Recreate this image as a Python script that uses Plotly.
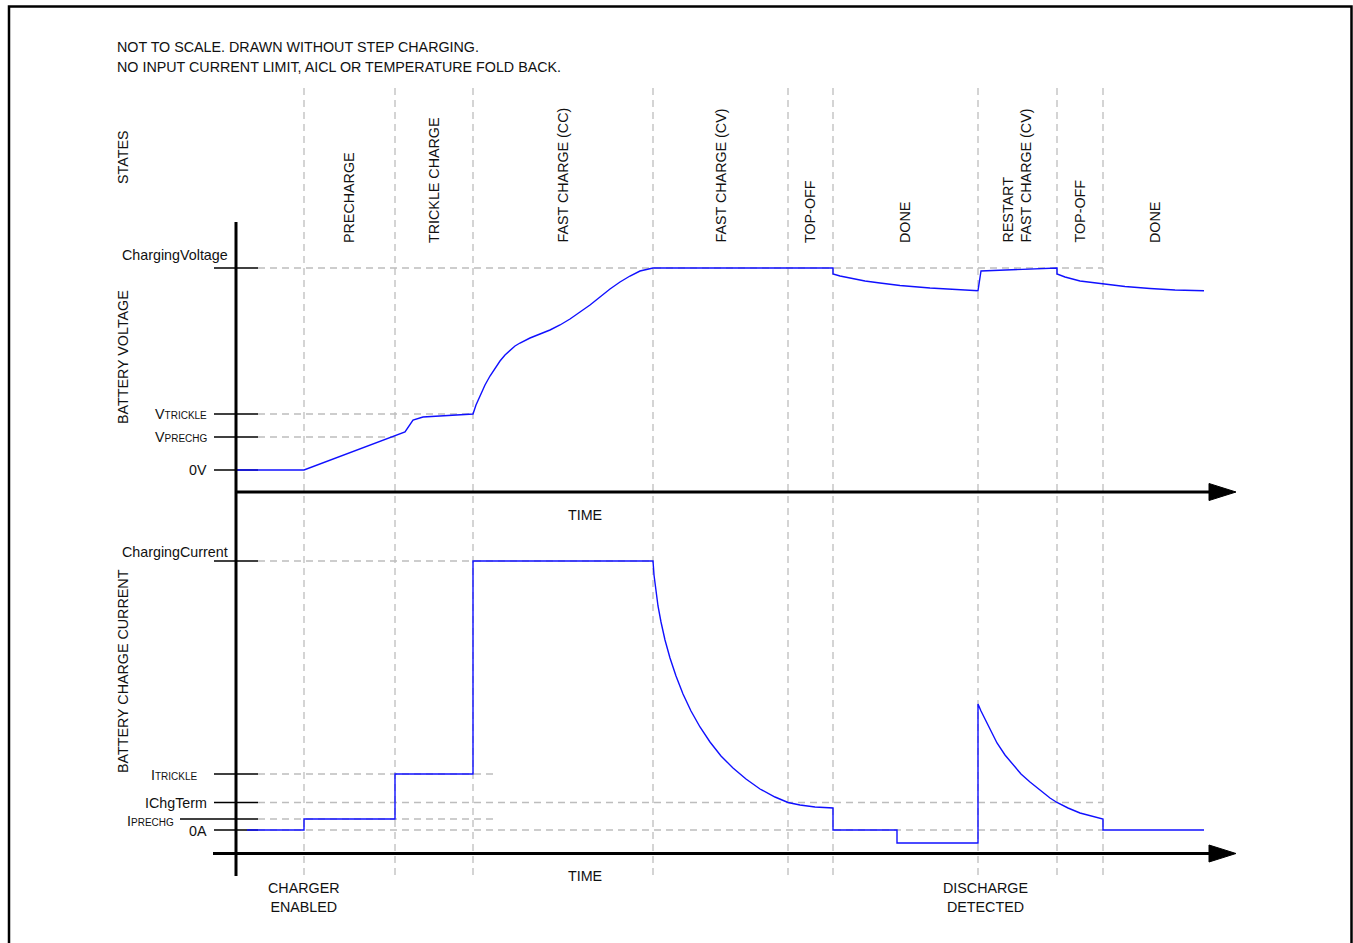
import plotly.graph_objects as go

W, H = 1353, 943
FONT = "Liberation Sans, Arial, sans-serif"
FS = 14.3
SUB = "<span style='font-size:10px'>{}</span>"
BLUE = "#1010ff"
GRID = "#bdbdbd"

# ---------------- data (arbitrary, not-to-scale units) ----------------
# state boundaries on the time axis
phase_t = [6.8, 15.9, 23.7, 41.7, 55.2, 59.7, 74.2, 82.1, 86.7]
t_end = 97.2
state_labels = ["PRECHARGE", "TRICKLE CHARGE", "FAST CHARGE (CC)", "FAST CHARGE (CV)",
                "TOP-OFF", "DONE", "RESTART<br>FAST CHARGE (CV)", "TOP-OFF", "DONE"]

# battery voltage curve
volt_t = [0, 6.8, 16.9, 17.7, 18.7, 23.7,
          24.0, 24.4, 24.9, 25.4, 25.9, 26.4, 26.9, 27.4, 27.9, 28.4, 29.4, 30.4, 31.4,
          32.4, 33.4, 34.4, 35.4, 36.4, 37.4, 38.4, 39.4, 40.4, 41.1, 41.7,
          59.7, 59.7, 60.4, 61.4, 62.9, 64.4, 66.4, 69.4, 71.9, 74.2,
          74.5, 82.1,
          82.1, 82.9, 84.4, 86.6, 88.9, 91.4, 93.9, 96.8]
volt_v = [0, 0, 3.8, 5.0, 5.3, 5.6,
          6.5, 7.4, 8.5, 9.4, 10.2, 10.9, 11.5, 12.0, 12.4, 12.7, 13.2, 13.6, 14.0,
          14.5, 15.1, 15.8, 16.5, 17.3, 18.1, 18.8, 19.4, 19.9, 20.1, 20.2,
          20.2, 19.6, 19.4, 19.2, 18.9, 18.7, 18.45, 18.2, 18.05, 17.93,
          19.9, 20.2,
          19.6, 19.3, 18.9, 18.6, 18.35, 18.15, 18.0, 17.93]

# battery charge current curve
curr_t = [1.1, 6.8, 6.8, 15.9, 15.9, 23.7, 23.7, 41.7,
          41.8, 42.0, 42.2, 42.5, 42.9, 43.4, 44.0, 44.7, 45.5, 46.4, 47.4, 48.5, 49.7,
          51.0, 52.4, 53.9, 55.2, 56.4, 57.9, 59.7,
          59.7, 66.1, 66.1, 74.2, 74.2,
          74.5, 74.9, 75.4, 76.1, 76.9, 77.7, 78.5, 79.4, 80.4, 81.4, 82.1, 83.2, 84.4,
          85.5, 86.6, 86.7, 86.7, 96.8]
curr_i = [0, 0, 1.1, 1.1, 5.6, 5.6, 26.9, 26.9,
          25.5, 23.8, 22.4, 20.8, 19.0, 17.2, 15.4, 13.6, 11.9, 10.3, 8.8, 7.4, 6.2,
          5.1, 4.1, 3.3, 2.75, 2.5, 2.3, 2.2,
          0, 0, -1.3, -1.3, 12.6,
          11.9, 11.1, 10.1, 8.7, 7.5, 6.5, 5.6, 4.8, 4.0, 3.2, 2.75, 2.2, 1.7,
          1.4, 1.1, 1.1, 0, 0]

# reference levels
volt_levels = [20.2, 5.6, 3.3, 0]
volt_level_labels = ["ChargingVoltage", "V" + SUB.format("TRICKLE"),
                     "V" + SUB.format("PRECHG"), "0V"]
volt_level_end = [86.7, 23.7, 15.9, None]

curr_levels = [26.9, 5.6, 2.75, 1.1, 0]
curr_level_labels = ["ChargingCurrent", "I" + SUB.format("TRICKLE"), "IChgTerm",
                     "I" + SUB.format("PRECHG"), "0A"]
curr_level_end = [41.7, 26.2, 86.7, 26.1, 86.7]

notes = ["NOT TO SCALE. DRAWN WITHOUT STEP CHARGING.",
         "NO INPUT CURRENT LIMIT, AICL OR TEMPERATURE FOLD BACK."]

# ---------------- layout helpers (pixel -> paper / axis) ----------------
def px(x):
    return x / W

def py(y):
    return 1 - y / H

X0 = 236.0      # pixel of t = 0
XS = 10.0       # pixels per time unit
V0, VS = 470.0, 10.0
I0, IS = 830.0, 10.0

def tx(x):       # pixel -> time units (for layout items)
    return (x - X0) / XS

fig = go.Figure()
fig.add_trace(go.Scatter(x=volt_t, y=volt_v, mode="lines", yaxis="y",
                         line=dict(color=BLUE, width=1.4), hoverinfo="skip"))
fig.add_trace(go.Scatter(x=curr_t, y=curr_i, mode="lines", yaxis="y2",
                         line=dict(color=BLUE, width=1.4), hoverinfo="skip"))

shapes = []
dash = "7px,5px"
# vertical state boundaries
for t in phase_t:
    shapes.append(dict(type="line", xref="x", yref="paper", x0=t, x1=t,
                       y0=py(88), y1=py(877), layer="below",
                       line=dict(color=GRID, width=1.3, dash=dash)))
# horizontal level lines + ticks
for lv, end in zip(volt_levels, volt_level_end):
    if end is not None:
        shapes.append(dict(type="line", xref="x", yref="y", x0=tx(258), x1=end,
                           y0=lv, y1=lv, layer="below",
                           line=dict(color=GRID, width=1.3, dash=dash)))
    shapes.append(dict(type="line", xref="x", yref="y", x0=tx(214), x1=tx(258),
                       y0=lv, y1=lv, layer="below", line=dict(color="black", width=1.5)))
for k, (lv, end) in enumerate(zip(curr_levels, curr_level_end)):
    shapes.append(dict(type="line", xref="x", yref="y2", x0=tx(258), x1=end,
                       y0=lv, y1=lv, layer="below",
                       line=dict(color=GRID, width=1.3, dash=dash)))
    start = 180 if k == 3 else 214
    shapes.append(dict(type="line", xref="x", yref="y2", x0=tx(start), x1=tx(258),
                       y0=lv, y1=lv, layer="below", line=dict(color="black", width=1.5)))

# axes
shapes.append(dict(type="line", xref="paper", yref="paper", x0=px(236), x1=px(236),
                   y0=py(222), y1=py(876), line=dict(color="black", width=3)))
shapes.append(dict(type="line", xref="paper", yref="paper", x0=px(236), x1=px(1214),
                   y0=py(492), y1=py(492), line=dict(color="black", width=3)))
shapes.append(dict(type="line", xref="paper", yref="paper", x0=px(213), x1=px(1214),
                   y0=py(853.5), y1=py(853.5), line=dict(color="black", width=3)))
for ay in (492, 853.5):
    path = "M {a},{b} L {c},{d} L {e},{f} Z".format(
        a=px(1236), b=py(ay), c=px(1209), d=py(ay - 8.5), e=px(1209), f=py(ay + 8.5))
    shapes.append(dict(type="path", xref="paper", yref="paper", path=path,
                       fillcolor="black", line=dict(color="black", width=1)))
# border
shapes.append(dict(type="rect", xref="paper", yref="paper", x0=px(9), x1=px(1351.5),
                   y0=py(6.5), y1=py(960), line=dict(color="black", width=2.5)))

ann = []
def text(s, x, y, xa="center", ya="middle", angle=0, align="center"):
    ann.append(dict(text=s, x=px(x), y=py(y), xref="paper", yref="paper",
                    xanchor=xa, yanchor=ya, textangle=angle, showarrow=False,
                    align=align, borderpad=0,
                    font=dict(family=FONT, size=FS, color="#111111")))

text(notes[0], 116, 47, xa="left")
text(notes[1], 116, 67, xa="left")
text("STATES", 123, 157, angle=-90)
text("BATTERY VOLTAGE", 123, 357, angle=-90)
text("BATTERY CHARGE CURRENT", 123, 671, angle=-90)
text("TIME", 585, 515)
text("TIME", 585, 876)
text("CHARGER<br>ENABLED", 304, 897)
text("DISCHARGE<br>DETECTED", 985, 897)

# state labels, centred in their phase
bounds = phase_t + [t_end]
for k, lab in enumerate(state_labels):
    tc = (bounds[k] + bounds[k + 1]) / 2
    ann.append(dict(text=lab, x=tc, y=py(244), xref="x", yref="paper",
                    xanchor="center", yanchor="bottom", textangle=-90, showarrow=False,
                    align="left", borderpad=0,
                    font=dict(family=FONT, size=FS, color="#111111")))

# level labels
v_lab_pos = [(229, -13), (208, 0), (209, 0), (208, 0)]
for lv, lab, (xr, dy) in zip(volt_levels, volt_level_labels, v_lab_pos):
    text(lab, xr, V0 - VS * lv + dy, xa="right")
i_lab_pos = [(229, -9), (199, 1), (208, 0), (175, 2), (208, 1)]
for lv, lab, (xr, dy) in zip(curr_levels, curr_level_labels, i_lab_pos):
    text(lab, xr, I0 - IS * lv + dy, xa="right")

fig.update_layout(
    width=W, height=H, margin=dict(l=0, r=0, t=0, b=0, pad=0),
    paper_bgcolor="white", plot_bgcolor="white", showlegend=False,
    xaxis=dict(range=[tx(0), tx(W)], visible=False, fixedrange=True),
    yaxis=dict(range=[(V0 - H) / VS, V0 / VS], visible=False, fixedrange=True),
    yaxis2=dict(range=[(I0 - H) / IS, I0 / IS], visible=False, fixedrange=True,
                overlaying="y"),
    shapes=shapes, annotations=ann,
)

fig.write_html("out.html", config={"displayModeBar": False},
               post_script="document.body.style.margin='0';document.body.style.overflow='hidden';")
